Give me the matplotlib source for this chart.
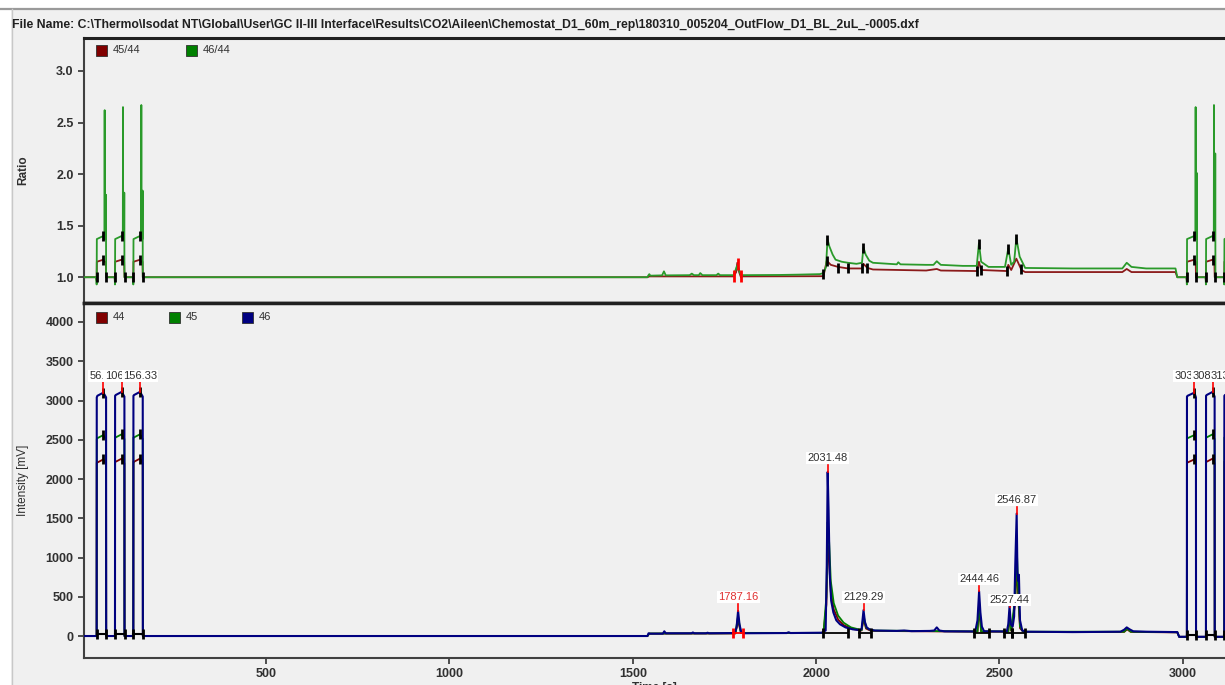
import matplotlib.pyplot as plt
from matplotlib.patches import Rectangle
from matplotlib.lines import Line2D

plt.rcParams['font.family'] = ['Liberation Sans', 'DejaVu Sans']

file_name = (r"File Name: C:\Thermo\Isodat NT\Global\User\GC II-III Interface\Results"
             r"\CO2\Aileen\Chemostat_D1_60m_rep\180310_005204_OutFlow_D1_BL_2uL_-0005.dxf")

# reference gas pulses: start, apex (labelled retention time), end  [s]
ref_start = [38, 88, 138, 3011, 3063, 3113]
ref_peak = [56.33, 106.33, 156.33, 3031.42, 3081.42, 3131.40]
ref_end = [64, 114, 164, 3036, 3087, 3138]
ref_base = [0, 0, 0, -10, -10, -10]
# intensities on the flat top and at the apex [mV]
ref_shoulder_46 = [3040, 3060, 3060, 3050, 3060, 3060]
ref_top_46 = [3100, 3110, 3110, 3100, 3110, 3110]
ref_top_45 = [2560, 2570, 2570, 2560, 2570, 2570]
ref_top_44 = [2250, 2260, 2260, 2250, 2260, 2260]

# ratio response during the reference pulses
r46_plateau = [1.37, 1.37, 1.37, 1.37, 1.37, 1.37]
r46_spike = [2.62, 2.65, 2.67, 2.65, 2.67, 2.67]
r46_spike2 = [1.80, 1.82, 1.84, 2.01, 2.20, 1.90]
r45_plateau = [1.15, 1.15, 1.15, 1.15, 1.15, 1.15]

# sample peaks
peak_times = [1787.16, 2031.48, 2129.29, 2444.46, 2527.44, 2546.87]
peak_heights = [320, 2090, 330, 570, 380, 1560]
peak_label_y = [497, 2267, 497, 726, 459, 1732]
peak_label_color = ['#e03030', '#303030', '#303030', '#303030', '#303030', '#303030']
ref_label_y = 3312

# integration limits of the sample peaks
int_start = [1774, 2019, 2117, 2431, 2513, 2533]
int_end = [1801, 2087, 2151, 2472, 2533, 2570]
int_color = ['red', 'black', 'black', 'black', 'black', 'black']

# mass 46 trace between the reference blocks (t [s], mV)
P = peak_times
H = peak_heights
t46 = [164, 1540, 1543, 1547, 1582, 1586, 1590, 1660, 1664, 1668, 1700, 1704, 1708,
       1778, 1783, P[0], 1791, 1796, 1805, 1920, 1925, 1930, 2015, 2026, 2029, P[1],
       2034, 2037, 2041, 2047, 2055, 2065, 2080, 2100, 2120, 2124, P[2], 2133, 2138,
       2145, 2160, 2220, 2240, 2260, 2310, 2322, 2329, 2336, 2350, 2434, 2440, P[3],
       2448, 2452, 2458, 2520, 2524, P[4], 2531, 2536, 2540, 2543, P[5], 2549, 2551,
       2553, 2556, 2562, 2575, 2700, 2760, 2830, 2840, 2847, 2855, 2865, 2900, 2985,
       2990, 3008]
mv46 = [0, 0, 35, 30, 30, 60, 35, 35, 45, 35, 35, 42, 35,
        38, 110, H[0], 150, 45, 35, 38, 48, 38, 42, 70, 900, H[1],
        1600, 800, 450, 300, 200, 150, 110, 85, 75, 90, H[2], 180, 110,
        85, 70, 65, 70, 62, 65, 70, 110, 70, 60, 58, 200, H[3],
        300, 120, 60, 58, 150, H[4], 150, 120, 250, 900, H[5], 800, 700,
        780, 200, 70, 55, 50, 52, 55, 80, 110, 85, 60, 55, 50,
        -10, -10]

# masses 44 and 45 (mostly hidden under 46)
t45 = [164, 1540, 1545, 1780, 1787, 1795, 2020, 2028, 2031.5, 2035, 2040, 2048, 2060,
       2075, 2095, 2124, 2129.5, 2136, 2150, 2440, 2444.5, 2450, 2524, 2527.5, 2532,
       2543, 2547, 2551, 2556, 2565, 2840, 2848, 2858, 2985, 2990, 3008]
mv45 = [0, 0, 32, 35, 250, 40, 40, 500, 1450, 1250, 700, 420, 260,
        170, 110, 75, 260, 110, 70, 58, 430, 60, 58, 300, 70,
        500, 1150, 600, 120, 55, 55, 95, 55, 48, -10, -10]
t44 = [164, 1540, 1545, 1780, 1787, 1795, 2020, 2028, 2031.5, 2035, 2040, 2048, 2060,
       2075, 2095, 2124, 2129.5, 2136, 2150, 2440, 2444.5, 2450, 2524, 2527.5, 2532,
       2543, 2547, 2551, 2556, 2565, 2840, 2848, 2858, 2985, 2990, 3008]
mv44 = [0, 0, 30, 33, 200, 38, 38, 400, 1150, 1000, 560, 340, 210,
        140, 95, 70, 220, 95, 65, 55, 360, 55, 55, 250, 65,
        420, 950, 500, 100, 52, 52, 85, 52, 46, -10, -10]

# ratio traces between the reference blocks (t [s], ratio)
tr46 = [164, 1540, 1542, 1545, 1548, 1580, 1585, 1590, 1655, 1661, 1667, 1680, 1684,
        1690, 1728, 1733, 1738, 1775, 1785, 1795, 1900, 1950, 2010, 2020, 2027, 2031,
        2036, 2045, 2053, 2070, 2087, 2110, 2125, 2129, 2135, 2145, 2155, 2200, 2220,
        2224, 2230, 2300, 2320, 2329, 2340, 2400, 2438, 2444, 2450, 2470, 2515, 2524,
        2532, 2540, 2546, 2555, 2570, 2700, 2835, 2847, 2860, 2900, 2980, 2985, 3008]
r46 = [1.0, 1.0, 1.015, 1.03, 1.015, 1.018, 1.057, 1.018, 1.02, 1.035, 1.02, 1.02, 1.04,
       1.02, 1.02, 1.035, 1.02, 1.02, 1.115, 1.02, 1.022, 1.025, 1.03, 1.04, 1.10, 1.37,
       1.30, 1.22, 1.17, 1.15, 1.14, 1.13, 1.14, 1.29, 1.22, 1.16, 1.14, 1.13, 1.125,
       1.145, 1.125, 1.12, 1.12, 1.155, 1.12, 1.11, 1.11, 1.33, 1.15, 1.10, 1.10, 1.28,
       1.12, 1.15, 1.38, 1.20, 1.09, 1.085, 1.085, 1.14, 1.10, 1.085, 1.085, 1.0, 1.0]
tr45 = [164, 1540, 1545, 1775, 1782, 1785, 1790, 1795, 1800, 2020, 2029, 2040, 2060,
        2087, 2126, 2129, 2140, 2155, 2300, 2329, 2340, 2438, 2444, 2450, 2520, 2524,
        2532, 2546, 2560, 2570, 2835, 2847, 2860, 2980, 2985, 3008]
r45 = [1.0, 1.0, 1.008, 1.008, 1.05, 1.14, 1.05, 1.0, 1.008, 1.01, 1.16, 1.12, 1.10,
       1.085, 1.085, 1.13, 1.09, 1.075, 1.065, 1.08, 1.065, 1.06, 1.15, 1.07, 1.06, 1.12,
       1.07, 1.18, 1.07, 1.05, 1.05, 1.08, 1.05, 1.05, 1.0, 1.0]

x_ticks = [500, 1000, 1500, 2000, 2500, 3000]
ratio_ticks = [1.0, 1.5, 2.0, 2.5, 3.0]
mv_ticks = [0, 500, 1000, 1500, 2000, 2500, 3000, 3500, 4000]

c44 = '#800000'
c45 = '#008000'
c46 = '#000080'
c_r45 = '#8b1a1a'
c_r46 = '#2a9a2a'
bg = '#f0f0f0'


def pulse_block(top_list):
    """Polyline of all reference pulses of one mass trace."""
    ts, ys = [4], [0]
    for i in range(len(ref_start)):
        ts += [ref_start[i], ref_start[i] + 0.3, ref_start[i] + 2, ref_peak[i],
               ref_end[i] - 0.3, ref_end[i]]
        ys += [ref_base[i], ref_shoulder_46[i] * top_list[i] / ref_top_46[i],
               top_list[i] - 40, top_list[i], top_list[i] - 60, ref_base[i]]
    return ts, ys


def ratio_block(with_spikes):
    ts, ys = [4], [1.0]
    for i in range(len(ref_start)):
        s, p, e = ref_start[i], ref_peak[i], ref_end[i]
        if with_spikes:
            ts += [s - 1, s, s + 0.5, p, p + 3, p + 3.5, p + 4, p + 6.5, p + 7, p + 7.5, e + 1]
            ys += [1.0, 0.93, r46_plateau[i], r46_plateau[i] + 0.03, r46_plateau[i],
                   r46_spike[i], r46_plateau[i], r46_plateau[i], r46_spike2[i], 1.0, 1.0]
        else:
            ts += [s - 1, s, s + 0.5, p, p + 3, e - 1, e]
            ys += [1.0, 0.97, r45_plateau[i], r45_plateau[i] + 0.02, r45_plateau[i],
                   r45_plateau[i], 1.0]
    return ts, ys


def split(ts, ys, lo, hi):
    pts = [(t, y) for t, y in zip(ts, ys) if lo <= t <= hi]
    return [p[0] for p in pts], [p[1] for p in pts]


fig = plt.figure(figsize=(12.25, 6.85), dpi=100, facecolor=bg)
W, Hh = 1225.0, 685.0

# window frame
fig.patches.append(Rectangle((0, 1 - 8 / Hh), 1, 8 / Hh, transform=fig.transFigure,
                             facecolor='white', edgecolor='none', zorder=-5))
fig.patches.append(Rectangle((0, 0), 11 / W, 1 - 8 / Hh, transform=fig.transFigure,
                             facecolor='white', edgecolor='none', zorder=-5))
fig.lines.append(Line2D([0, 1], [1 - 9 / Hh] * 2, transform=fig.transFigure,
                        color='#9a9a9a', lw=1.6, zorder=-4))
fig.lines.append(Line2D([11.5 / W] * 2, [0, 1 - 9 / Hh], transform=fig.transFigure,
                        color='#c8c8c8', lw=1.0, zorder=-4))
fig.text(12 / W, 1 - 25 / Hh, file_name, fontsize=8.8, fontweight='bold',
         color='#202020', va='center', ha='left')

left = 84 / W
ax_r = fig.add_axes([left, 1 - 303 / Hh, 1 - left, (303 - 38) / Hh], facecolor=bg)
ax_i = fig.add_axes([left, 1 - 658 / Hh, 1 - left, (658 - 303) / Hh], facecolor=bg)

# ---- ratio panel ----
bt, by = ratio_block(True)
rt, ry = ratio_block(False)
g1t, g1y = split(bt, by, 0, 170)
g2t, g2y = split(bt, by, 2990, 3200)
r1t, r1y = split(rt, ry, 0, 170)
r2t, r2y = split(rt, ry, 2990, 3200)
ax_r.plot(r1t + tr45 + r2t, r1y + r45 + r2y, color=c_r45, lw=1.3, zorder=2)
ax_r.plot(g1t + tr46 + g2t, g1y + r46 + g2y, color=c_r46, lw=1.3, zorder=3)

# peak markers on the ratio traces
mk_t, mk_y = [], []
for i in range(len(ref_start)):
    mk_t += [ref_start[i], ref_peak[i], ref_peak[i], ref_end[i]]
    mk_y += [1.0, r46_plateau[i] + 0.03, r45_plateau[i] + 0.02, 1.0]
mk_t += [2020, 2029, 2031, 2060, 2087, 2125, 2129, 2140, 2440, 2444, 2450, 2520, 2524,
         2546, 2560]
mk_y += [1.03, 1.16, 1.36, 1.09, 1.09, 1.085, 1.28, 1.09, 1.06, 1.32, 1.07, 1.06, 1.27,
         1.37, 1.08]
ax_r.plot(mk_t, mk_y, ls='none', marker='|', ms=7, mew=2, color='black', zorder=4)
ax_r.plot([1776, 1787, 1795], [1.01, 1.13, 1.01], ls='none', marker='|', ms=8, mew=2,
          color='red', zorder=4)

ax_r.set_xlim(3.5, 3115)
ax_r.set_ylim(0.75, 3.32)
ax_r.set_yticks(ratio_ticks)
ax_r.set_yticklabels(['%.1f' % v for v in ratio_ticks])
ax_r.tick_params(axis='x', bottom=False, labelbottom=False)
ax_r.set_ylabel('Ratio', fontsize=8.5, fontweight='bold', color='#303030')
ax_r.yaxis.set_label_coords((29 - 84) / (W - 84), 0.5)

# ---- intensity panel ----
for top, col, tt, yy in [(ref_top_44, c44, t44, mv44), (ref_top_45, c45, t45, mv45),
                         (ref_top_46, c46, t46, mv46)]:
    pt, py = pulse_block(top)
    a_t, a_y = split(pt, py, 0, 170)
    b_t, b_y = split(pt, py, 3000, 3200)
    lw = 1.5 if col == c46 else 1.3
    ax_i.plot(a_t + tt + b_t, a_y + yy + b_y, color=col, lw=lw, zorder=3 if col == c46 else 2)

# integration baselines and limits
for i in range(len(ref_start)):
    ax_i.plot([ref_start[i], ref_end[i]], [ref_base[i] + 20] * 2, color='black', lw=1.5, zorder=4)
    ax_i.plot([ref_start[i], ref_end[i]], [ref_base[i] + 20] * 2, ls='none', marker='|',
              ms=7, mew=2, color='black', zorder=4)
    ax_i.plot([ref_peak[i]] * 3, [ref_top_46[i], ref_top_45[i], ref_top_44[i]], ls='none',
              marker='|', ms=7, mew=2, color='black', zorder=4)
for i in range(len(int_start)):
    ax_i.plot([int_start[i], int_end[i]], [40, 40], color=int_color[i], lw=1.3, zorder=4)
    ax_i.plot([int_start[i], int_end[i]], [40, 40], ls='none', marker='|', ms=7, mew=2,
              color=int_color[i], zorder=4)

# peak apex ticks and retention time labels
for i in range(len(ref_peak)):
    ax_i.plot([ref_peak[i]] * 2, [ref_top_46[i], ref_top_46[i] + 130], color='red', lw=1.2,
              zorder=5)
    ax_i.text(ref_peak[i], ref_label_y, '%.2f' % ref_peak[i], fontsize=8, color='#303030',
              ha='center', va='center', zorder=6,
              bbox=dict(boxstyle='square,pad=0.12', fc='white', ec='none'))
for i in range(len(peak_times)):
    ax_i.plot([peak_times[i]] * 2, [peak_heights[i], peak_label_y[i] - 90], color='red',
              lw=1.2, zorder=5)
    ax_i.text(peak_times[i], peak_label_y[i], '%.2f' % peak_times[i], fontsize=8,
              color=peak_label_color[i], ha='center', va='center', zorder=6,
              bbox=dict(boxstyle='square,pad=0.12', fc='white', ec='none'))

ax_i.set_xlim(3.5, 3115)
ax_i.set_ylim(-280, 4242)
ax_i.set_xticks(x_ticks)
ax_i.set_yticks(mv_ticks)
ax_i.set_ylabel('Intensity [mV]', fontsize=8.5, color='#303030')
ax_i.yaxis.set_label_coords((29 - 84) / (W - 84), 0.5)
ax_i.set_xlabel('Time [s]', fontsize=8.5, fontweight='bold', color='#303030', labelpad=1)

for ax in (ax_r, ax_i):
    ax.spines['right'].set_visible(False)
    ax.spines['left'].set_color('#404040')
    ax.spines['left'].set_linewidth(1.5)
    ax.spines['bottom'].set_color('#202020')
    ax.spines['top'].set_color('#202020')
    ax.tick_params(direction='out', length=4, width=1.3, colors='#404040',
                   labelsize=9, labelcolor='#303030')
    for lab in ax.get_xticklabels() + ax.get_yticklabels():
        lab.set_fontweight('bold')
ax_r.spines['top'].set_linewidth(2.2)
ax_r.spines['bottom'].set_linewidth(2.5)
ax_i.spines['top'].set_linewidth(2.5)
ax_i.spines['bottom'].set_linewidth(1.5)
ax_i.spines['bottom'].set_color('#404040')

# legends
def legend_row(y_px, items):
    for x_px, label, col in items:
        fig.patches.append(Rectangle(((x_px - 6) / W, 1 - (y_px + 6) / Hh), 11 / W, 11 / Hh,
                                     transform=fig.transFigure, facecolor=col,
                                     edgecolor='#303030', lw=0.6))
        fig.text((x_px + 11) / W, 1 - y_px / Hh, label, fontsize=8, color='#303030',
                 va='center', ha='left')


legend_row(50, [(102, '45/44', c44), (192, '46/44', c45)])
legend_row(317, [(102, '44', c44), (175, '45', c45), (248, '46', c46)])

fig.savefig('out.png', dpi=100, facecolor=bg)
